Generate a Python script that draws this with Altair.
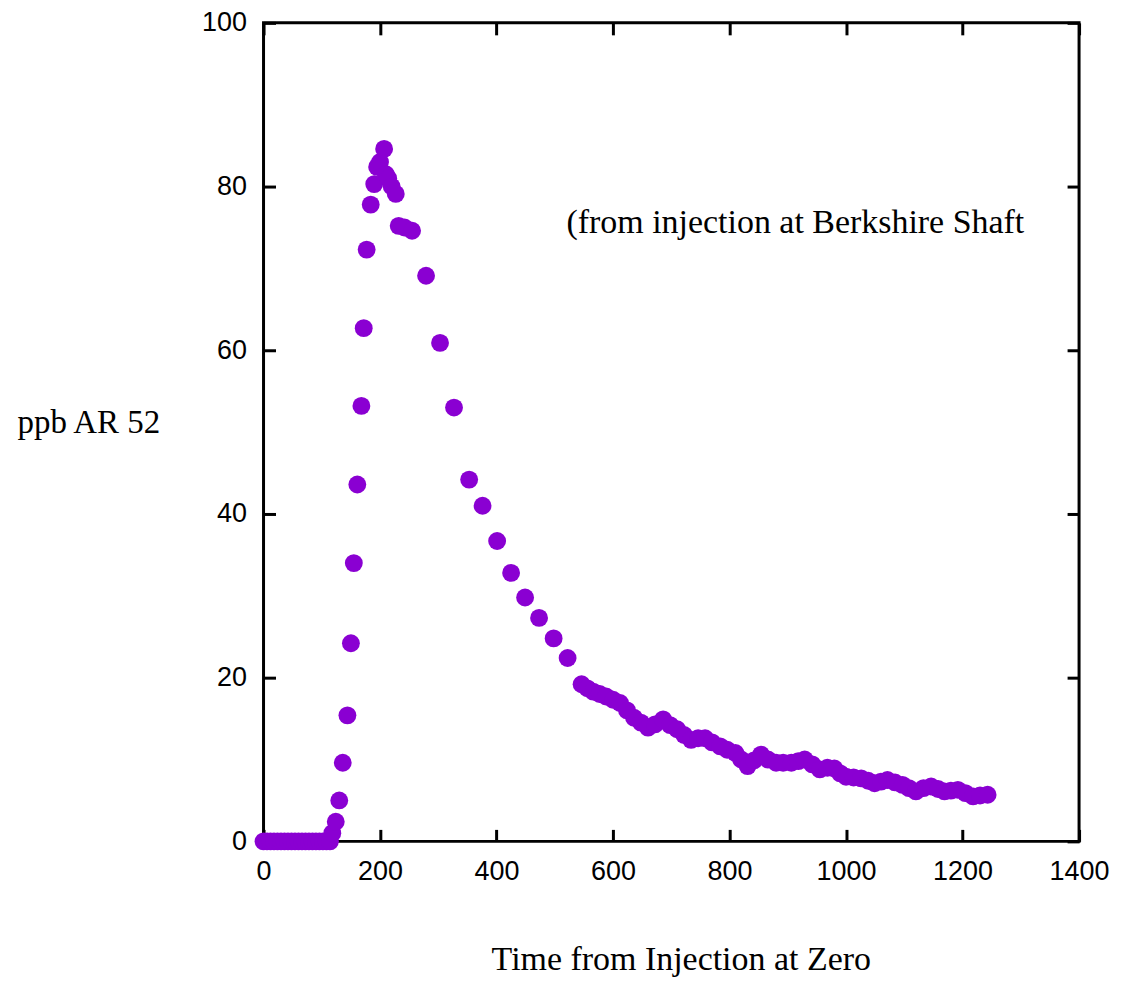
import altair as alt
import pandas as pd

# Time (x) and ppb AR 52 (y)
times = [0, 6, 12, 18, 24, 30, 36, 42, 48, 54, 60, 66, 72, 78, 84, 90, 96, 102, 108, 114,
         118, 124, 130, 136, 144, 150, 155, 161, 168, 172, 177, 184, 190, 195, 200, 207,
         210, 214, 220, 227, 232, 242, 255, 279, 303, 327, 353, 376, 401, 425, 449, 473,
         498, 522, 546, 556, 566, 577, 588, 600, 612, 624, 636, 648, 660, 672, 686, 698,
         710, 722, 734, 746, 758, 770, 784, 796, 810, 820, 831, 842, 854, 866, 880, 892,
         906, 918, 929, 942, 955, 968, 980, 990, 1000, 1013, 1026, 1038, 1049, 1060, 1071,
         1084, 1097, 1108, 1120, 1133, 1146, 1158, 1169, 1180, 1192, 1205, 1218, 1230, 1243]
ppb = [0, 0, 0, 0, 0, 0, 0, 0, 0, 0, 0, 0, 0, 0, 0, 0, 0, 0, 0, 0,
       1.0, 2.4, 5.0, 9.6, 15.4, 24.2, 34.0, 43.6, 53.2, 62.7, 72.3, 77.8, 80.3, 82.4, 83.0, 84.6,
       81.5, 81.0, 80.0, 79.1, 75.2, 75.0, 74.6, 69.1, 60.9, 53.0, 44.2, 41.0, 36.7, 32.8, 29.8, 27.3,
       24.8, 22.4, 19.2, 18.7, 18.3, 18.0, 17.7, 17.3, 16.9, 16.0, 15.1, 14.5, 13.9, 14.3, 14.9, 14.2,
       13.7, 13.0, 12.4, 12.6, 12.6, 12.1, 11.6, 11.2, 10.8, 10.0, 9.2, 9.9, 10.6, 10.0, 9.6, 9.6,
       9.6, 9.8, 10.0, 9.4, 8.8, 9.0, 8.9, 8.3, 7.9, 7.8, 7.7, 7.4, 7.1, 7.3, 7.5,
       7.2, 6.9, 6.5, 6.1, 6.5, 6.7, 6.4, 6.1, 6.2, 6.3, 5.9, 5.5, 5.6, 5.7]

x_ticks = [0, 200, 400, 600, 800, 1000, 1200, 1400]
y_ticks = [0, 20, 40, 60, 80, 100]

note_text = ["(from injection at Berkshire Shaft"]
note_x = [520]
note_y = [74.3]

df = pd.DataFrame({"t": times, "v": ppb})
notes = pd.DataFrame({"t": note_x, "v": note_y, "label": note_text})

PURPLE = "#8A00D2"
SANS = "Liberation Sans"
SERIF = "Liberation Serif"

xscale = alt.Scale(domain=[0, 1400], nice=False, zero=False)
yscale = alt.Scale(domain=[0, 100], nice=False, zero=False)

base = alt.Chart(df)

points = base.mark_circle(size=320, color=PURPLE, opacity=1).encode(
    x=alt.X("t:Q", scale=xscale, axis=alt.Axis(
        orient="bottom", values=x_ticks, format="d", domain=False, grid=False,
        offset=-12, tickSize=12, tickWidth=3, tickColor="black",
        labelFont=SANS, labelFontSize=27, labelColor="black", labelPadding=17,
        labelFlush=False,
        title="Time from Injection at Zero", titleFont=SERIF, titleFontSize=34,
        titleFontWeight="normal", titleColor="black",
        titleX=418, titleY=140, titleBaseline="alphabetic", titleAlign="center")),
    y=alt.Y("v:Q", scale=yscale, axis=alt.Axis(
        orient="left", values=y_ticks, format="d", domain=False, grid=False,
        offset=-12, tickSize=12, tickWidth=3, tickColor="black",
        labelFont=SANS, labelFontSize=27, labelColor="black", labelPadding=17,
        labelFlush=False,
        title="ppb AR 52", titleFont=SERIF, titleFontSize=33,
        titleFontWeight="normal", titleColor="black", titleAngle=0,
        titleX=-259, titleY=410, titleBaseline="alphabetic", titleAlign="left")),
)

mirror = base.mark_circle(opacity=0).encode(
    x=alt.X("t:Q", scale=xscale, axis=alt.Axis(
        orient="top", values=x_ticks, domain=False, grid=False, labels=False,
        offset=-12, tickSize=12, tickWidth=3, tickColor="black", title=None)),
    y=alt.Y("v:Q", scale=yscale, axis=alt.Axis(
        orient="right", values=y_ticks, domain=False, grid=False, labels=False,
        offset=-12, tickSize=12, tickWidth=3, tickColor="black", title=None)),
)

note = alt.Chart(notes).mark_text(
    font=SERIF, fontSize=34, color="black", align="left", baseline="alphabetic"
).encode(
    x=alt.X("t:Q", scale=xscale, axis=None),
    y=alt.Y("v:Q", scale=yscale, axis=None),
    text="label:N",
)

chart = alt.layer(points, mirror, note).resolve_axis(
    x="independent", y="independent"
).properties(
    width=817, height=820,
    autosize=alt.AutoSizeParams(type="none"),
    padding={"left": 256, "top": 14, "right": 34, "bottom": 140},
).configure(
    background="white"
).configure_view(
    stroke="black", strokeWidth=3, fill="white"
)

chart.save("out.html", embed_options={"renderer": "svg", "actions": False})
